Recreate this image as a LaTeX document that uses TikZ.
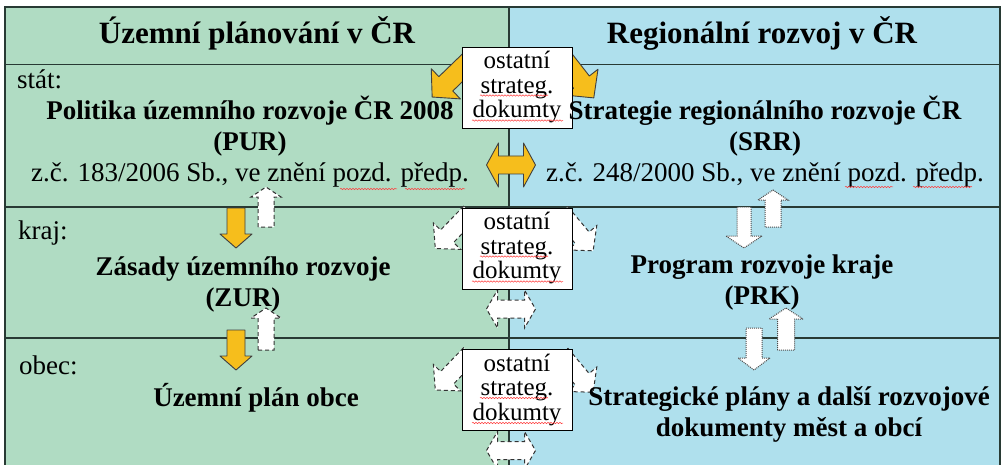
\documentclass[tikz,border=0pt]{standalone}
\usepackage{fontspec}
\setmainfont{Liberation Serif}
\usetikzlibrary{calc,decorations.pathmorphing}

\definecolor{plangreen}{RGB}{176,220,195}
\definecolor{regblue}{RGB}{175,224,237}
\definecolor{gold}{RGB}{246,190,28}
\definecolor{rulegray}{RGB}{40,58,52}

\tikzset{
  goldarrow/.style={fill=gold, draw=black!75, line width=0.9pt, line join=round},
  dasharrow/.style={fill=white, draw=black!80, line width=1pt, dash pattern=on 4pt off 3pt},
  dotarrow/.style={fill=white, draw=black!70, line width=1pt, dash pattern=on 1pt off 1pt},
  docbox/.style={draw=black, line width=0.8pt, fill=white, minimum width=110pt, minimum height=81pt,
    inner sep=0pt, align=center, font=\fontsize{25}{24.5}\selectfont},
  heading/.style={font=\fontsize{31}{36}\selectfont\bfseries},
  level/.style={anchor=west, inner sep=0pt, font=\fontsize{27}{30}\selectfont},
  plan/.style={align=center, inner sep=0pt, font=\fontsize{27}{31}\selectfont\bfseries},
  spell/.style={draw=red!75, line width=0.5pt, decorate, decoration={snake, amplitude=0.7pt, segment length=3pt}}
}

% block arrow: style, tail, angle, length, shaft half width, head half width, head length
\newcommand{\blockarrow}[7]{\draw[#1, shift={#2}, rotate=#3] (0,-#5) -- ({#4-#7},-#5) -- ({#4-#7},-#6) -- (#4,0) -- ({#4-#7},#6) -- ({#4-#7},#5) -- (0,#5) -- cycle;}
% double arrow: style, centre, length, shaft half width, head half width, head length
\newcommand{\doublearrow}[6]{\draw[#1, shift={#2}] ({-#3/2},0) -- ({-#3/2+#6},-#5) -- ({-#3/2+#6},-#4) -- ({#3/2-#6},-#4) -- ({#3/2-#6},-#5) -- ({#3/2},0) -- ({#3/2-#6},#5) -- ({#3/2-#6},#4) -- ({-#3/2+#6},#4) -- ({-#3/2+#6},#5) -- cycle;}

\begin{document}
\begin{tikzpicture}[x=1pt,y=-1pt]
\useasboundingbox (0,0) rectangle (1003,465);

% -------- panels and grid ---------
\coordinate (nw) at (5,7);
\coordinate (ne) at (1000,7);
\coordinate (mid) at (509,7);
\fill[plangreen] (nw) rectangle (509,465);
\fill[regblue] (mid) rectangle (1000,465);
\draw[rulegray, line width=1.6pt] (5,465) -- (nw) -- (ne) -- (1000,465);
\draw[rulegray, line width=1.6pt] (mid) -- (509,465);
\draw[rulegray, line width=1.4pt] (5,64.5) -- (1000,64.5); % under the headings
\draw[rulegray, line width=1.4pt] (5,207) -- (1000,207); % stat / kraj
\draw[rulegray, line width=1.4pt] (5,338) -- (1000,338); % kraj / obec

% centres of the three "ostatni" boxes
\coordinate (d1) at (517,87.5);
\coordinate (d2) at (517,248.5);
\coordinate (d3) at (517,390);

% -------- stat level: gold arrows ---------
\blockarrow{goldarrow}{($ (d1) + (-46,-28) $)}{224}{54}{10}{21}{19}
\blockarrow{goldarrow}{($ (d1) + (46,-29) $)}{-52}{50}{10}{21}{20}
\doublearrow{goldarrow}{($ (d1) + (-6,77.5) $)}{49}{9}{22}{12}

% -------- kraj and obec levels: dashed arrows ---------
\blockarrow{dasharrow}{($ (d2) + (-47,-36) $)}{226}{50}{9}{19}{17}
\blockarrow{dasharrow}{($ (d2) + (44,-36) $)}{-50}{50}{9}{19}{17}
\doublearrow{dasharrow}{($ (d2) + (-6,60.5) $)}{49}{9}{19}{11}
\blockarrow{dasharrow}{($ (d3) + (-47,-36) $)}{226}{50}{9}{19}{17}
\blockarrow{dasharrow}{($ (d3) + (44,-36) $)}{-50}{50}{9}{19}{17}
\doublearrow{dasharrow}{($ (d3) + (-6,60.5) $)}{49}{9}{19}{11}

% -------- vertical arrows, left panel ---------
\blockarrow{goldarrow}{(236,208)}{-90}{40}{9}{16}{14}
\blockarrow{goldarrow}{(236,330)}{-90}{40}{9}{16}{14}
\blockarrow{dasharrow}{(266,227)}{90}{40}{8}{15}{10}
\blockarrow{dasharrow}{(266,350)}{90}{42}{8}{15}{10}

% -------- vertical arrows, right panel ---------
\blockarrow{dotarrow}{(744,207)}{-90}{41}{7}{18}{12}
\blockarrow{dotarrow}{(773,227)}{90}{37}{8}{15}{10}
\blockarrow{dotarrow}{(754,328)}{-90}{42}{8}{16}{12}
\blockarrow{dotarrow}{(786,350)}{90}{42}{8.5}{17}{11}

% -------- boxes ---------
\node[docbox] (doc1) at (d1) {ostatní\\strateg.\\dokumty};
\node[docbox] (doc2) at (d2) {ostatní\\strateg.\\dokumty};
\node[docbox] (doc3) at (d3) {ostatní\\strateg.\\dokumty};
\draw[spell] ($ (d1) + (-37,8) $) -- ($ (d1) + (31,8) $);
\draw[spell] ($ (d1) + (-45,33) $) -- ($ (d1) + (46,33) $);
\draw[spell] ($ (d2) + (-37,8) $) -- ($ (d2) + (31,8) $);
\draw[spell] ($ (d2) + (-45,33) $) -- ($ (d2) + (46,33) $);
\draw[spell] ($ (d3) + (-37,8) $) -- ($ (d3) + (31,8) $);
\draw[spell] ($ (d3) + (-45,33) $) -- ($ (d3) + (46,33) $);

% -------- texts ---------
\node[heading] (hplan) at (257,33) {Územní plánování v ČR};
\node[heading] (hreg) at (762,33) {Regionální rozvoj v ČR};
\node[level] (lstat) at (17,79) {stát:};
\node[level] (lkraj) at (18,233) {kraj:};
\node[level] (lobec) at (19,365) {obec:};

\node[plan] (pur) at (250,142) {Politika územního rozvoje ČR 2008\\(PUR)\\\mdseries z.č. 183/2006 Sb., ve znění pozd. předp.};
\node[plan] (srr) at (765,142) {Strategie regionálního rozvoje ČR\\(SRR)\\\mdseries z.č. 248/2000 Sb., ve znění pozd. předp.};
\node[plan] (zur) at (243,284) {Zásady územního rozvoje\\(ZUR)};
\node[plan] (prk) at (762,283) {Program rozvoje kraje\\(PRK)};
\node[plan] (upo) at (256,398) {Územní plán obce};
\node[plan] (spo) at (789,414) {Strategické plány a další rozvojové\\dokumenty měst a obcí};

\draw[spell] (340,189) -- (397,189);
\draw[spell] (405,189) -- (465,189);
\draw[spell] (845,187) -- (893,187);
\draw[spell] (913,187) -- (972,187);
\end{tikzpicture}
\end{document}
